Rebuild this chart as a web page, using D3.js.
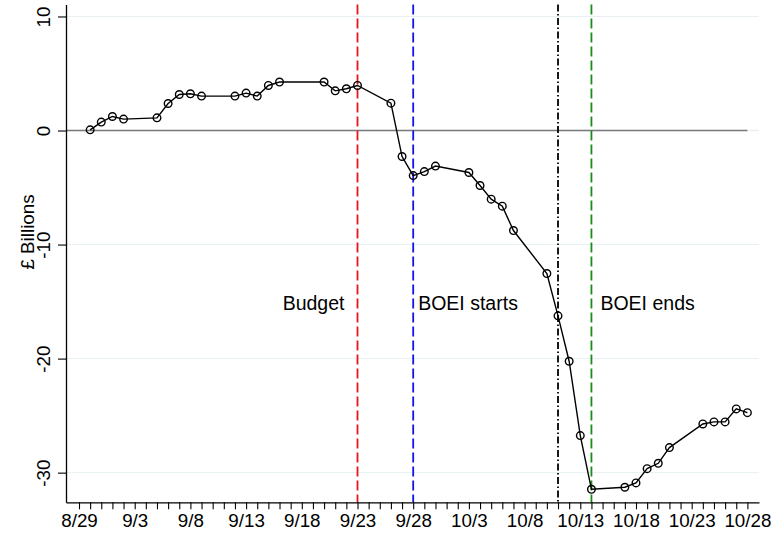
<!DOCTYPE html>
<html>
<head>
<meta charset="utf-8">
<script src="https://cdn.jsdelivr.net/npm/d3@7"></script>
<style>
  html, body { margin: 0; padding: 0; background: #fff; }
  svg { display: block; font-family: "Liberation Sans", Arial, sans-serif; }
</style>
</head>
<body>
<svg id="chart" width="772" height="537"></svg>
<script>
const dates = ["8/30","8/31","9/1","9/2","9/5","9/6","9/7","9/8","9/9","9/12","9/13","9/14","9/15","9/16","9/20","9/21","9/22","9/23","9/26","9/27","9/28","9/29","9/30","10/3","10/4","10/5","10/6","10/7","10/10","10/11","10/12","10/13","10/14","10/17","10/18","10/19","10/20","10/21","10/24","10/25","10/26","10/27","10/28"];
const values = [0.06,0.74,1.23,1.0,1.11,2.37,3.16,3.22,3.02,3.02,3.28,3.02,3.95,4.25,4.25,3.48,3.66,3.95,2.40,-2.28,-3.95,-3.6,-3.12,-3.68,-4.82,-6.02,-6.63,-8.77,-12.54,-16.25,-20.23,-26.75,-31.46,-31.28,-30.9,-29.65,-29.18,-27.8,-25.73,-25.55,-25.55,-24.41,-24.74];
const xTickLabels = ["8/29","9/3","9/8","9/13","9/18","9/23","9/28","10/3","10/8","10/13","10/18","10/23","10/28"];
const yTicks = [-30,-20,-10,0,10];
const yTickLabels = ["-30","-20","-10","0","10"];
const events = ["9/23","9/28","10/11","10/14"];
const eventLabels = ["Budget","BOEI starts","","BOEI ends"];
const eventColors = ["#e8141c","#1414e8","#000000","#1a8c1a"];
const eventDashes = ["10,4","10,4","7,2.5,1.5,2.5","10,4"];
const YEAR = 2022;

const parse = s => d3.utcParse("%m/%d/%Y")(s + "/" + YEAR);
const fmt = d3.utcFormat("%-m/%-d");
const data = dates.map((d, i) => ({date: parse(d), value: values[i]}));

const first = parse(xTickLabels[0]);
const last = parse(xTickLabels[xTickLabels.length - 1]);

const svg = d3.select("#chart");
const x = d3.scaleUtc()
  .domain([d3.utcHour.offset(first, -28), d3.utcHour.offset(last, 25)])
  .range([66, 759]);
const y = d3.scaleLinear().domain([-32.6, 11.05]).range([502.3, 4.5]);

// gridlines
svg.append("g").selectAll("line").data(yTicks.filter(v => v !== 0)).join("line")
  .attr("x1", 66).attr("x2", 759)
  .attr("y1", d => y(d)).attr("y2", d => y(d))
  .attr("stroke", "#e8f0f2").attr("stroke-width", 1);
svg.append("line").attr("x1", 66).attr("x2", 759).attr("y1", y(0)).attr("y2", y(0))
  .attr("stroke", "#e8f0f2").attr("stroke-width", 1.5);
svg.append("line").attr("x1", 66).attr("x2", x(last)).attr("y1", y(0)).attr("y2", y(0))
  .attr("stroke", "#7a7a7a").attr("stroke-width", 1.5);

// event lines
events.forEach((e, i) => {
  const ex = x(parse(e));
  svg.append("line").attr("x1", ex).attr("x2", ex).attr("y1", y.range()[1]).attr("y2", y.range()[0])
    .attr("stroke", eventColors[i]).attr("stroke-width", 1.8)
    .attr("stroke-dasharray", eventDashes[i]);
});

// annotation labels
const labelY = 310;
svg.append("text").attr("x", x(parse(events[0])) - 13).attr("y", labelY)
  .attr("text-anchor", "end").attr("font-size", 19.5).attr("fill", "#000").text(eventLabels[0]);
svg.append("text").attr("x", x(parse(events[1])) + 5).attr("y", labelY)
  .attr("font-size", 19.5).attr("fill", "#000").text(eventLabels[1]);
svg.append("text").attr("x", x(parse(events[3])) + 9).attr("y", labelY)
  .attr("font-size", 19.5).attr("fill", "#000").text(eventLabels[3]);

// series line
const line = d3.line().x(d => x(d.date)).y(d => y(d.value));
svg.append("path").datum(data).attr("d", line)
  .attr("fill", "none").attr("stroke", "#000").attr("stroke-width", 1.4);
svg.append("g").selectAll("circle").data(data).join("circle")
  .attr("cx", d => x(d.date)).attr("cy", d => y(d.value)).attr("r", 3.8)
  .attr("fill", "none").attr("stroke", "#000").attr("stroke-width", 1.4);

// x axis
const xAxis = d3.axisBottom(x)
  .tickValues(d3.utcDay.range(first, d3.utcDay.offset(last, 1)))
  .tickFormat(d => xTickLabels.includes(fmt(d)) ? fmt(d) : "")
  .tickSize(7).tickSizeOuter(0).tickPadding(4);
const gx = svg.append("g").attr("transform", `translate(0,${y.range()[0]})`).call(xAxis);
gx.select(".domain").attr("stroke", "#000").attr("stroke-width", 1.3);
gx.selectAll(".tick line").attr("stroke", "#000").attr("stroke-width", 1.1);
gx.selectAll(".tick text").attr("font-size", 18.8).attr("font-family", "Liberation Sans, Arial, sans-serif").attr("fill", "#000");

// y axis
const yAxis = d3.axisLeft(y).tickValues(yTicks).tickSize(8).tickSizeOuter(0)
  .tickFormat(d => yTickLabels[yTicks.indexOf(d)]);
const gy = svg.append("g").attr("transform", "translate(66,0)").call(yAxis);
gy.select(".domain").attr("stroke", "#000").attr("stroke-width", 1.3);
gy.selectAll(".tick line").attr("stroke", "#000").attr("stroke-width", 1.1);
gy.selectAll(".tick text")
  .attr("font-size", 18.8).attr("font-family", "Liberation Sans, Arial, sans-serif").attr("fill", "#000")
  .attr("x", null).attr("dy", null)
  .attr("text-anchor", "middle")
  .attr("transform", "translate(-16,0) rotate(-90)");

// y axis title
svg.append("text").attr("transform", `translate(34,232) rotate(-90)`)
  .attr("text-anchor", "middle").attr("font-size", 18.8).attr("fill", "#000").text("£ Billions");
</script>
</body>
</html>
